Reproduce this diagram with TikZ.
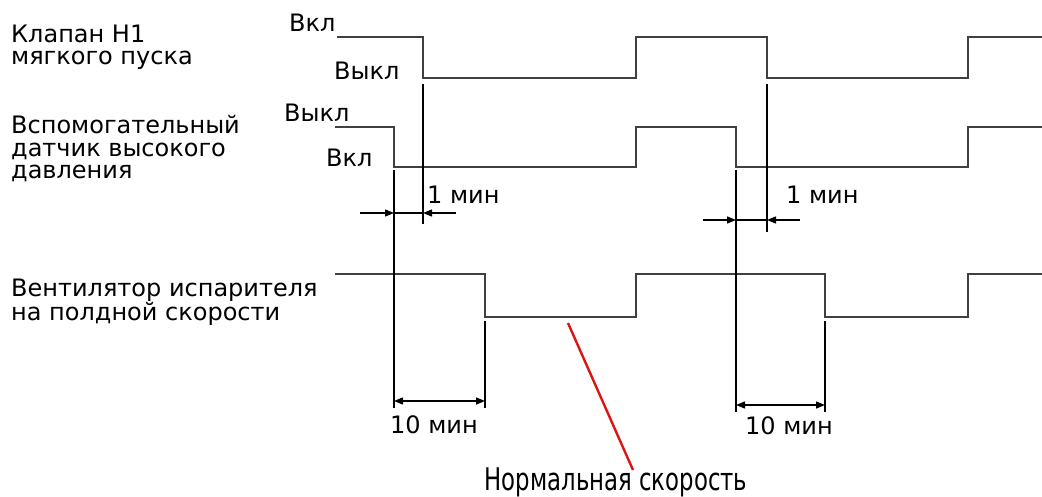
\documentclass[tikz,border=0pt]{standalone}
\usepackage{fontspec}
\setmainfont{DejaVu Sans}
\usetikzlibrary{arrows.meta}
\begin{document}
\begin{tikzpicture}[x=1pt,y=-1pt,
  sig/.style={line width=2.4pt, draw=black!75, line join=miter},
  ext/.style={line width=1.4pt, draw=black},
  tip/.tip={Triangle[length=9pt,width=7pt]},
  dimarrow/.style={line width=1.4pt, draw=black, -tip},
  dimboth/.style={line width=1.4pt, draw=black, tip-tip},
  lbl/.style={anchor=base west, inner sep=0pt, font=\fontsize{24}{26}\selectfont},
]
\useasboundingbox (0,0) rectangle (1042,497);

% left labels
\node[lbl] (a1) at (11,43) {Клапан H1};
\node[lbl] (a2) at (11,65) {мягкого пуска};
\node[lbl] (b1) at (11,134) {Вспомогательный};
\node[lbl] (b2) at (11,157) {датчик высокого};
\node[lbl] (b3) at (11,179) {давления};
\node[lbl] (c1) at (11,297) {Вентилятор испарителя};
\node[lbl] (c2) at (11,320) {на полдной скорости};

% level labels
\node[lbl] (v1) at (289,32) {Вкл};
\node[lbl] (v2) at (334,80) {Выкл};
\node[lbl] (v3) at (284,122) {Выкл};
\node[lbl] (v4) at (326,167) {Вкл};

% signals
\draw[sig] (337,37) -- (423,37) -- (423,78) -- (636,78) -- (636,37) -- (767,37) -- (767,78) -- (968,78) -- (968,37) -- (1042,37);
\draw[sig] (335,127) -- (394,127) -- (394,167) -- (636,167) -- (636,127) -- (736,127) -- (736,167) -- (968,167) -- (968,127) -- (1042,127);
\draw[sig] (335,274) -- (485,274) -- (485,317) -- (636,317) -- (636,274) -- (825,274) -- (825,317) -- (968,317) -- (968,274) -- (1042,274);

% extension lines
\coordinate (e1t) at (394,170); \coordinate (e1b) at (394,408);
\coordinate (e2t) at (423,84);  \coordinate (e2b) at (423,224);
\coordinate (e3t) at (485,321); \coordinate (e3b) at (485,408);
\coordinate (e4t) at (736,170); \coordinate (e4b) at (736,412);
\coordinate (e5t) at (767,84);  \coordinate (e5b) at (767,232);
\coordinate (e6t) at (825,321); \coordinate (e6b) at (825,412);
\draw[ext] (e1t) -- (e1b);
\draw[ext] (e2t) -- (e2b);
\draw[ext] (e3t) -- (e3b);
\draw[ext] (e4t) -- (e4b);
\draw[ext] (e5t) -- (e5b);
\draw[ext] (e6t) -- (e6b);

% 1 min dimensions
\coordinate (d1l) at (360,213); \coordinate (d1a) at (394,213);
\coordinate (d1b) at (423,213); \coordinate (d1r) at (456,213);
\draw[dimarrow] (d1l) -- (d1a);
\draw[dimarrow] (d1r) -- (d1b);
\draw[ext] (d1a) -- (d1b);
\node[lbl] (m1) at (427,204) {1 мин};

\coordinate (d2l) at (703,220); \coordinate (d2a) at (736,220);
\coordinate (d2b) at (767,220); \coordinate (d2r) at (800,220);
\draw[dimarrow] (d2l) -- (d2a);
\draw[dimarrow] (d2r) -- (d2b);
\draw[ext] (d2a) -- (d2b);
\node[lbl] (m2) at (786,204) {1 мин};

% 10 min dimensions
\coordinate (t1a) at (394,401); \coordinate (t1b) at (485,401);
\draw[dimboth] (t1a) -- (t1b);
\node[lbl] (m3) at (390,433) {10 мин};
\coordinate (t2a) at (736,405); \coordinate (t2b) at (825,405);
\draw[dimboth] (t2a) -- (t2b);
\node[lbl] (m4) at (745,434) {10 мин};

% normal speed
\node[lbl, anchor=base] (norm) at (616,490) {\scalebox{0.95}[1.3]{Нормальная скорость}};
\coordinate (r1) at (568,323); \coordinate (r2) at (633,470);
\draw[line width=2.4pt, draw={rgb,255:red,220;green,20;blue,20}] (r1) -- (r2);
\end{tikzpicture}
\end{document}
